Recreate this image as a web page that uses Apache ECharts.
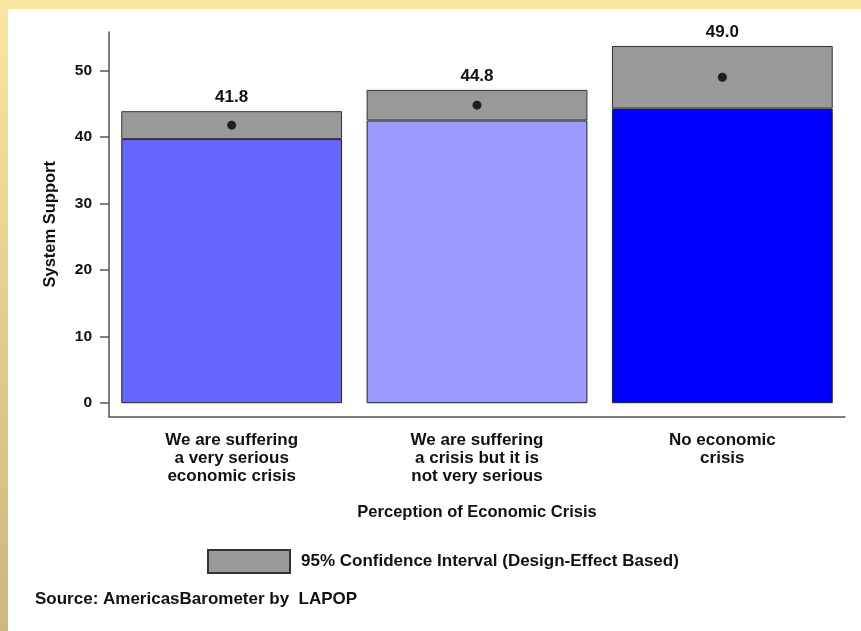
<!DOCTYPE html>
<html>
<head>
<meta charset="utf-8">
<script src="https://cdn.jsdelivr.net/npm/echarts@6/dist/echarts.min.js"></script>
<style>
html,body{margin:0;padding:0;}
#wrap{position:relative;width:861px;height:631px;background:linear-gradient(to bottom,#f9e6a0,#cdb67f);overflow:hidden;}
#panel{position:absolute;left:8px;top:9px;width:853px;height:622px;background:#ffffff;}
#chart{position:absolute;left:0;top:0;width:861px;height:631px;}
</style>
</head>
<body>
<div id="wrap"><div id="panel"></div><div id="chart"></div></div>
<script>
const categories = ['We are suffering\na very serious\neconomic crisis', 'We are suffering\na crisis but it is\nnot very serious', 'No economic\ncrisis'];
const means = [41.8, 44.8, 49.0];
const lowerCI = [39.7, 42.5, 44.3];
const upperCI = [43.9, 47.1, 53.7];
const barColors = ['#6666ff', '#9999ff', '#0000ff'];
const yTicks = [0, 10, 20, 30, 40, 50];

const font = 'Liberation Sans, Arial, sans-serif';
const chart = echarts.init(document.getElementById('chart'), null, {renderer: 'canvas'});
chart.setOption({
  backgroundColor: 'transparent',
  animation: false,
  textStyle: {fontFamily: font},
  grid: {left: 109, right: 16, top: 32, bottom: 214.5, containLabel: false},
  title: {
    text: 'Source: AmericasBarometer by  LAPOP',
    left: 35, top: 591, padding: 0,
    textStyle: {fontFamily: font, fontSize: 17, fontWeight: 'bold', color: '#111'}
  },
  legend: {
    data: ['95% Confidence Interval (Design-Effect Based)'],
    left: 207, top: 549, padding: 0,
    itemWidth: 82, itemHeight: 23, itemGap: 10,
    icon: 'rect',
    textStyle: {fontFamily: font, fontSize: 17, fontWeight: 'bold', color: '#111', padding: [0, 0, 0, 6]}
  },
  xAxis: {
    type: 'category',
    data: categories,
    name: 'Perception of Economic Crisis',
    nameLocation: 'middle',
    nameGap: 87,
    nameTextStyle: {fontFamily: font, fontSize: 16.5, fontWeight: 'bold', color: '#111'},
    axisLine: {onZero: false, lineStyle: {color: '#555', width: 1.5}},
    axisTick: {alignWithLabel: true, length: 8, lineStyle: {color: '#555', width: 1.5}},
    axisLabel: {interval: 0, margin: 15, fontFamily: font, fontSize: 17, fontWeight: 'bold', color: '#111', lineHeight: 18}
  },
  yAxis: {
    type: 'value',
    min: -2, max: 55.8,
    name: 'System Support',
    nameLocation: 'middle',
    nameGap: 50,
    nameTextStyle: {fontFamily: font, fontSize: 16.5, fontWeight: 'bold', color: '#111'},
    splitLine: {show: false},
    axisLine: {show: true, lineStyle: {color: '#555', width: 1.5}},
    axisTick: {show: true, length: 9, customValues: yTicks, lineStyle: {color: '#555', width: 1.5}},
    axisLabel: {margin: 17, customValues: yTicks, fontFamily: font, fontSize: 15.5, fontWeight: 'bold', color: '#111'}
  },
  series: [
    {
      name: 'lower',
      type: 'bar',
      stack: 'ci',
      barWidth: '90%',
      data: lowerCI.map((v, i) => ({value: v, itemStyle: {color: barColors[i]}})),
      itemStyle: {borderColor: '#222', borderWidth: 1}
    },
    {
      name: '95% Confidence Interval (Design-Effect Based)',
      type: 'bar',
      stack: 'ci',
      barWidth: '90%',
      data: upperCI.map((v, i) => v - lowerCI[i]),
      itemStyle: {color: '#999999', borderColor: '#333', borderWidth: 1},
      label: {
        show: true, position: 'top', distance: 5,
        formatter: p => means[p.dataIndex].toFixed(1),
        fontFamily: font, fontSize: 17, fontWeight: 'bold', color: '#111'
      }
    },
    {
      name: 'mean',
      type: 'scatter',
      data: means,
      symbol: 'circle',
      symbolSize: 9,
      itemStyle: {color: '#000'},
      z: 5
    }
  ]
});
</script>
</body>
</html>
